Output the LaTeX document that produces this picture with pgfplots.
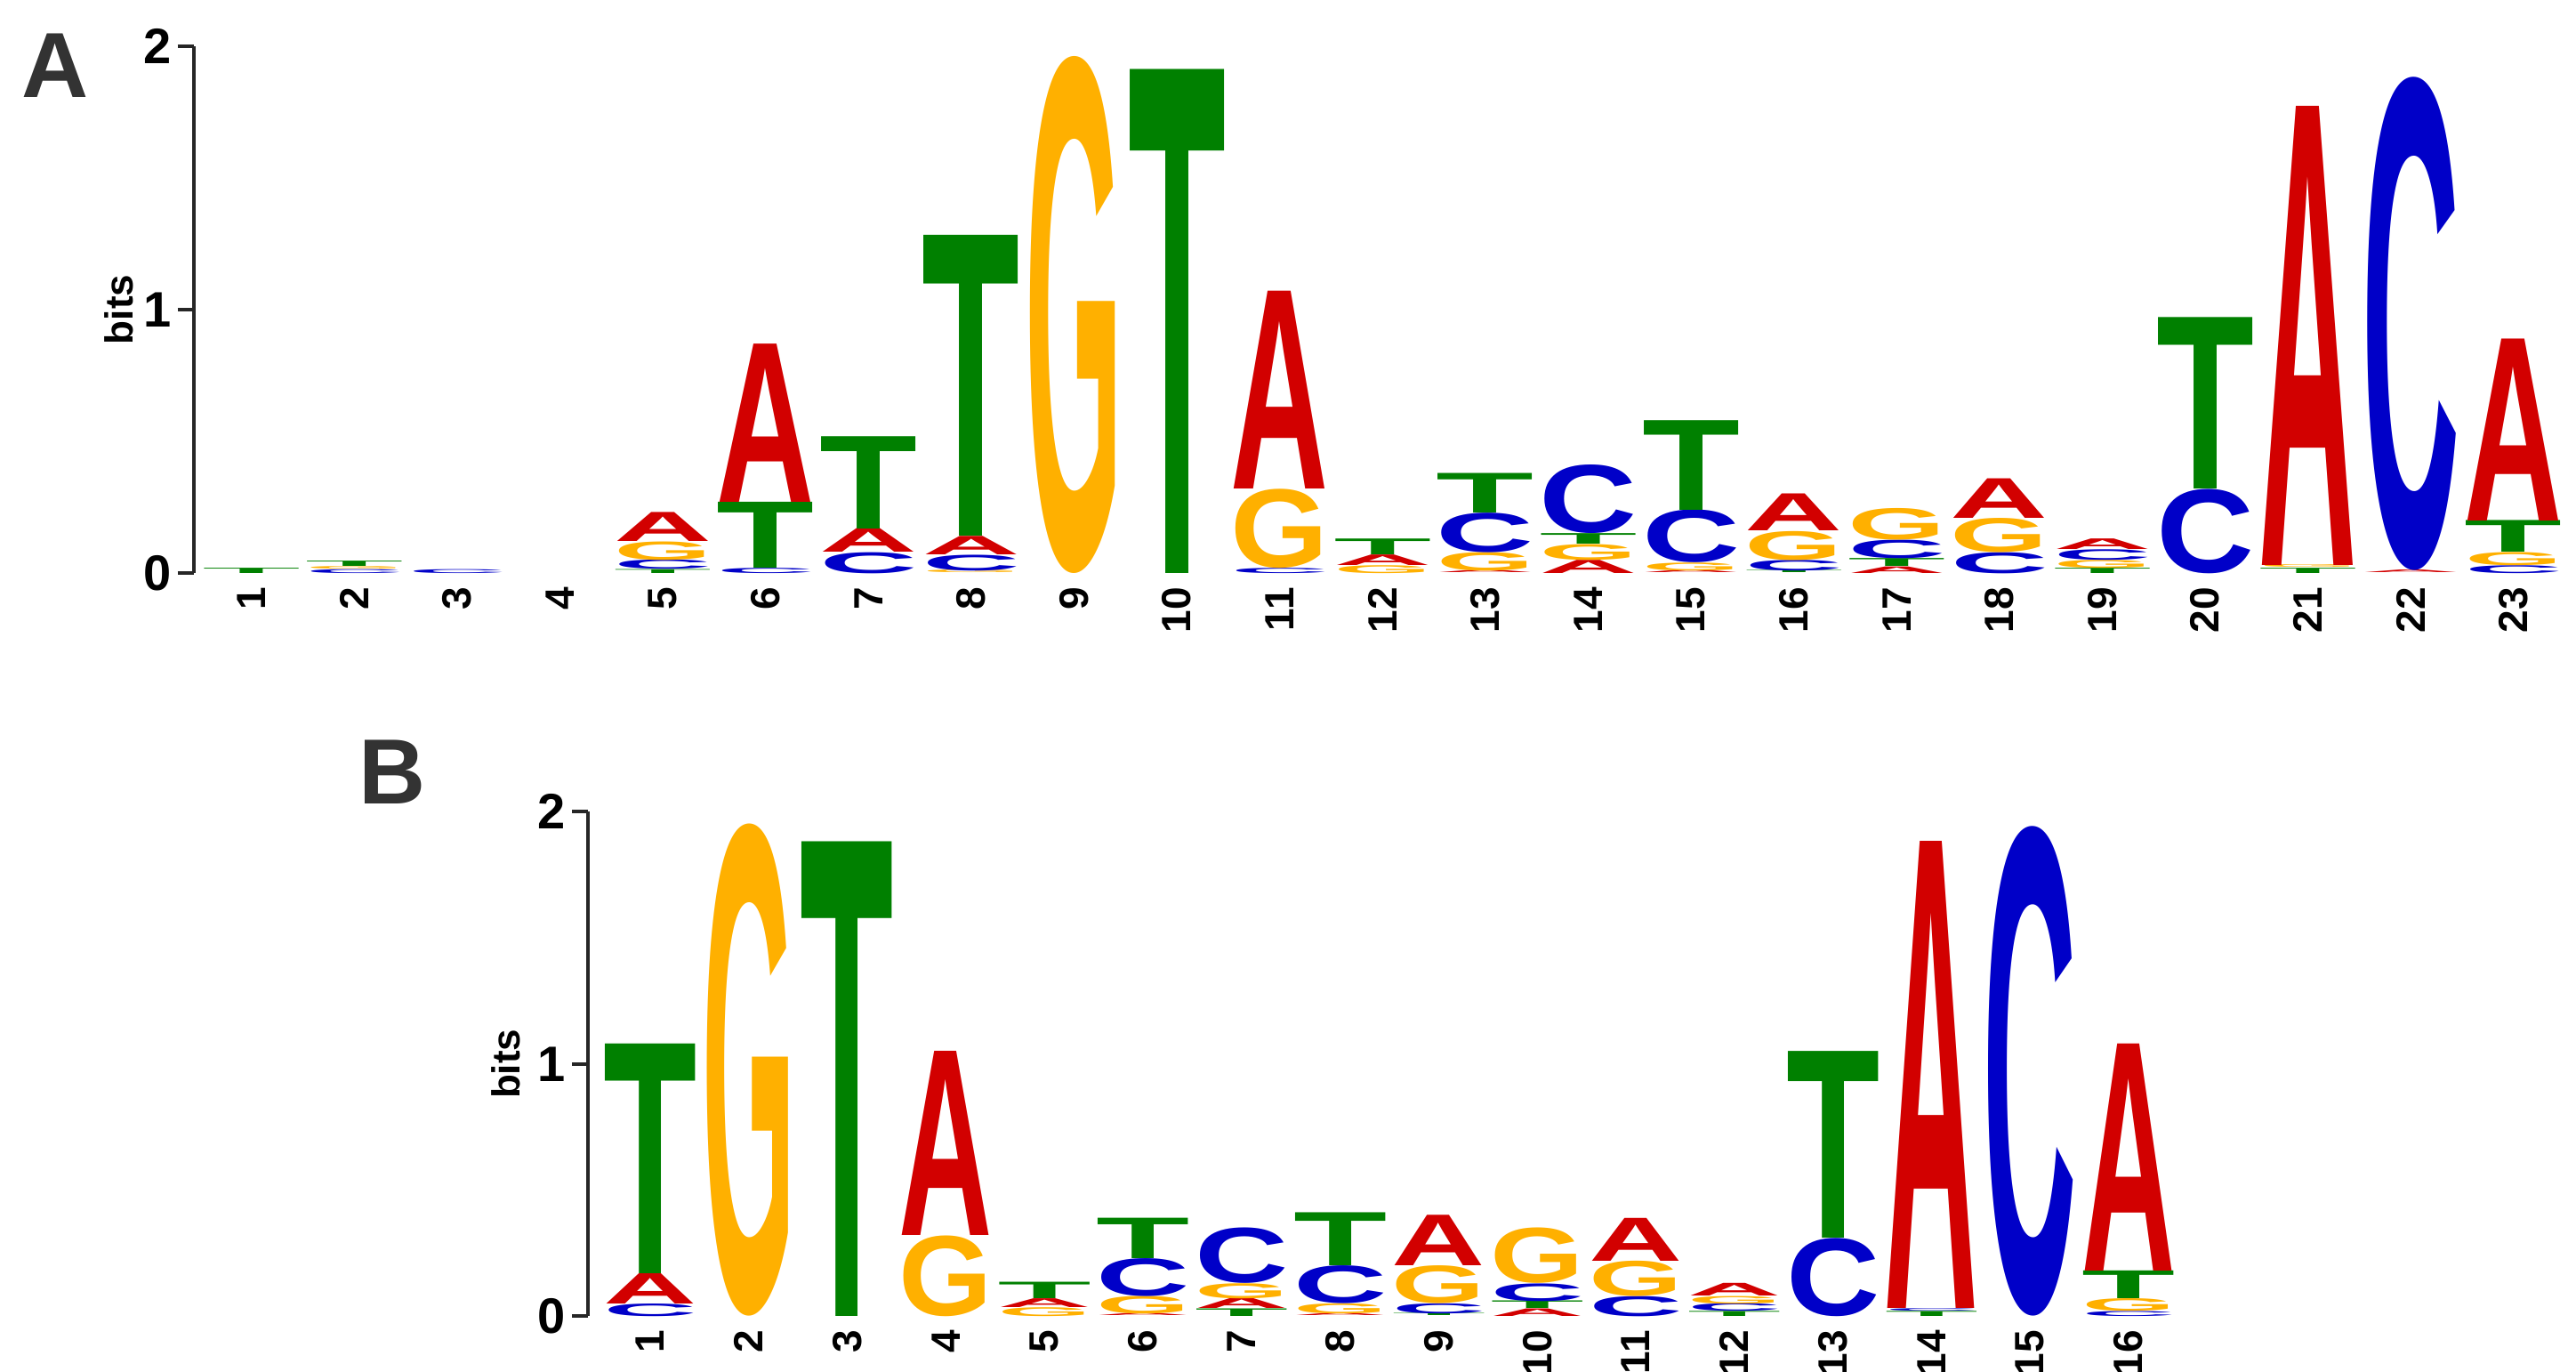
\documentclass[border=0pt]{standalone}
\usepackage{pgfplots}
\pgfplotsset{compat=1.18}
\usepackage{fontspec}
\setmainfont{Liberation Sans}
\definecolor{colA}{RGB}{210,0,0}
\definecolor{colC}{RGB}{0,0,200}
\definecolor{colG}{RGB}{255,176,0}
\definecolor{colT}{RGB}{0,128,0}
\definecolor{panel}{RGB}{51,51,51}
\pgfdeclareplotmark{emptymark}{}
\pgfplotsset{
  logo/.style={
    scatter, only marks, mark=emptymark,
    visualization depends on={value \thisrow{h}\as\myh},
    visualization depends on={value \thisrow{L}\as\myletter},
    scatter/@pre marker code/.code={%
      \pgfmathsetlengthmacro\myhh{max(\myh,0.002)*\yu}%
      \edef\mycol{col\myletter}%
      \node[anchor=south,inner sep=0pt,outer sep=0pt,text=\mycol] at (canvas cs:x=0pt,y=0pt) {\resizebox*{\lw}{\myhh}{\bfseries\myletter}};%
      \pgfscope
    },
    scatter/@post marker code/.code={\endpgfscope},
  },
  logoaxis/.style={
    axis x line=bottom, axis y line=left,
    x axis line style={draw=none},
    y axis line style={-, line width=1pt, black!85},
    xtick style={draw=none},
    ytick style={line width=1pt, black!85},
    ytick align=outside, major tick length=4.6pt,
    ymin=0, ymax=2, ytick={0,1,2},
    clip=false,
    /pgf/number format/assume math mode=true,
    yticklabel style={font=\bfseries\fontsize{14}{16}\selectfont, inner sep=1.5pt},
    xticklabel style={font=\bfseries\fontsize{11.5}{13}\selectfont, rotate=90, anchor=east, inner sep=1.5pt},
    ylabel={bits},
    ylabel style={font=\bfseries\fontsize{11}{13}\selectfont},
  },
}
\begin{document}
\begin{tikzpicture}
\path[use as bounding box] (0,0) rectangle (724pt,385.5pt);
\node[text=panel, font=\bfseries\fontsize{26}{30}\selectfont] at (15.5pt,367pt) {A};
\node[text=panel, font=\bfseries\fontsize{26}{30}\selectfont] at (110.3pt,168.5pt) {B};
\def\yu{74.1pt}\def\lw{27.5pt}
\begin{axis}[logoaxis, x=28.9pt, y=74.1pt, xmin=0.44, xmax=23.5,
  xtick={1,...,23}, at={(54.5pt,224.4pt)}, anchor=south west,
  ylabel style={yshift=-2pt}]
\addplot[logo] table {
x b h L
1 0 0.02 T
2 0 0.015 C
2 0.015 0.01 G
2 0.025 0.02 T
3 0 0.015 C
5 0 0.015 T
5 0.015 0.035 C
5 0.05 0.07 G
5 0.12 0.11 A
6 0 0.02 C
6 0.02 0.25 T
6 0.27 0.6 A
7 0 0.08 C
7 0.08 0.09 A
7 0.17 0.35 T
8 0 0.01 G
8 0.01 0.06 C
8 0.07 0.07 A
8 0.14 1.14 T
9 0 1.96 G
10 0 1.91 T
11 0 0.02 C
11 0.02 0.3 G
11 0.32 0.75 A
12 0 0.03 G
12 0.03 0.04 A
12 0.07 0.06 T
13 0 0.01 A
13 0.01 0.07 G
13 0.08 0.15 C
13 0.23 0.15 T
14 0 0.05 A
14 0.05 0.06 G
14 0.11 0.04 T
14 0.15 0.26 C
15 0 0.01 A
15 0.01 0.03 G
15 0.04 0.2 C
15 0.24 0.34 T
16 0 0.01 T
16 0.01 0.04 C
16 0.05 0.11 G
16 0.16 0.14 A
17 0 0.025 A
17 0.025 0.03 T
17 0.055 0.07 C
17 0.125 0.12 G
18 0 0.08 C
18 0.08 0.13 G
18 0.21 0.15 A
19 0 0.02 T
19 0.02 0.03 G
19 0.05 0.04 C
19 0.09 0.04 A
20 0 0.32 C
20 0.32 0.65 T
21 0 0.02 T
21 0.02 0.01 G
21 0.03 1.74 A
22 0 0.01 A
22 0.01 1.87 C
23 0 0.03 C
23 0.03 0.05 G
23 0.08 0.12 T
23 0.2 0.69 A
};
\end{axis}
\def\yu{70.9pt}\def\lw{26.3pt}
\begin{axis}[logoaxis, x=27.7pt, y=70.9pt, xmin=0.37, xmax=16.5,
  xtick={1,...,16}, at={(165.3pt,15.65pt)}, anchor=south west]
\addplot[logo] table {
x b h L
1 0 0.05 C
1 0.05 0.12 A
1 0.17 0.91 T
2 0 1.95 G
3 0 1.88 T
4 0 0.32 G
4 0.32 0.73 A
5 0 0.035 G
5 0.035 0.035 A
5 0.07 0.065 T
6 0 0.01 A
6 0.01 0.07 G
6 0.08 0.15 C
6 0.23 0.16 T
7 0 0.03 T
7 0.03 0.04 A
7 0.07 0.06 G
7 0.13 0.22 C
8 0 0.01 A
8 0.01 0.04 G
8 0.05 0.15 C
8 0.2 0.21 T
9 0 0.01 T
9 0.01 0.04 C
9 0.05 0.15 G
9 0.2 0.2 A
10 0 0.03 A
10 0.03 0.03 T
10 0.06 0.07 C
10 0.13 0.22 G
11 0 0.08 C
11 0.08 0.14 G
11 0.22 0.17 A
12 0 0.02 T
12 0.02 0.03 C
12 0.05 0.03 G
12 0.08 0.05 A
13 0 0.31 C
13 0.31 0.74 T
14 0 0.02 T
14 0.02 0.01 C
14 0.03 1.85 A
15 0 1.94 C
16 0 0.02 C
16 0.02 0.05 G
16 0.07 0.11 T
16 0.18 0.9 A
};
\end{axis}
\end{tikzpicture}
\end{document}
